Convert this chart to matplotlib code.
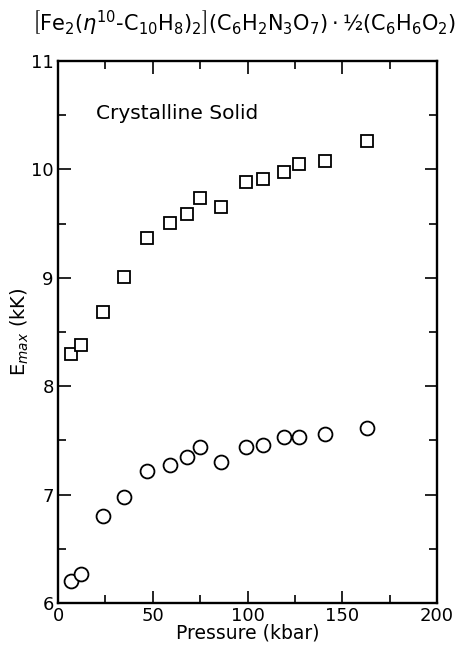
import matplotlib
matplotlib.use("Agg")
import matplotlib.pyplot as plt
from matplotlib.ticker import MultipleLocator

plt.rcParams['font.family'] = ['DejaVu Sans']
plt.rcParams['mathtext.fontset'] = 'dejavusans'

pressure = [7, 12, 24, 35, 47, 59, 68, 75, 86, 99, 108, 119, 127, 141, 163]
e_square = [8.30, 8.38, 8.68, 9.01, 9.37, 9.51, 9.59, 9.74, 9.65, 9.88, 9.91, 9.98, 10.05, 10.08, 10.26]
e_circle = [6.20, 6.27, 6.80, 6.98, 7.22, 7.27, 7.35, 7.44, 7.30, 7.44, 7.46, 7.53, 7.53, 7.56, 7.61]

x_ticks = [0, 50, 100, 150, 200]
y_ticks = [6, 7, 8, 9, 10, 11]

title = (r"$\left[\mathrm{Fe_2(}\eta^{10}\mathrm{‐C_{10}H_8)_2}\right]"
         r"\mathrm{(C_6H_2N_3O_7)\cdot ½(C_6H_6O_2)}$")

fig = plt.figure(figsize=(4.61, 6.45), dpi=100)
ax = fig.add_axes([58/461, 1-603/645, (437-58)/461, (603-61)/645])

ax.plot(pressure, e_square, linestyle='none', marker='s', markersize=9,
        markerfacecolor='white', markeredgecolor='black', markeredgewidth=1.3)
ax.plot(pressure, e_circle, linestyle='none', marker='o', markersize=10,
        markerfacecolor='white', markeredgecolor='black', markeredgewidth=1.3)

ax.set_xlim(0, 200)
ax.set_ylim(6, 11)
ax.set_xticks(x_ticks)
ax.set_yticks(y_ticks)
ax.xaxis.set_minor_locator(MultipleLocator(25))
ax.yaxis.set_minor_locator(MultipleLocator(0.5))
ax.tick_params(which='both', direction='in', top=True, right=True,
               width=1.2, labelsize=13, colors='black')
ax.tick_params(which='major', length=9, pad=3)
ax.tick_params(which='minor', length=6)
for s in ax.spines.values():
    s.set_linewidth(1.7)

ax.set_xlabel("Pressure (kbar)", fontsize=13.5, labelpad=-1)
ax.set_ylabel(r"E$_{max}$ (kK)", fontsize=14, labelpad=0)
ax.text(20, 10.52, "Crystalline Solid", fontsize=14.5, va='center', ha='left')

fig.text(0.53, 1-23/645, title, fontsize=15, ha='center', va='center')

fig.savefig("out.png", dpi=100)
